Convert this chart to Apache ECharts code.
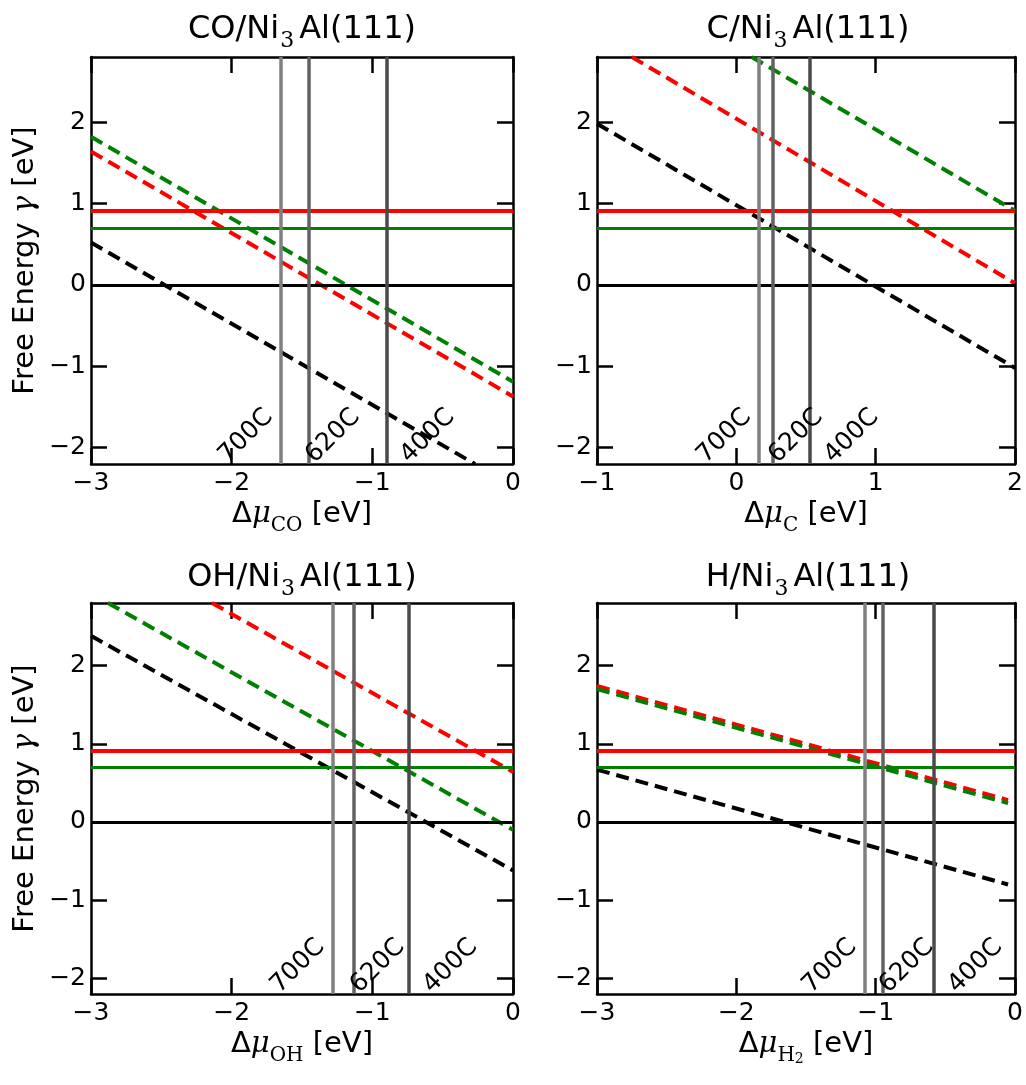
<!DOCTYPE html>
<html><head><meta charset="utf-8">
<script src="https://cdn.jsdelivr.net/npm/echarts@6/dist/echarts.min.js"></script>
<style>html,body{margin:0;padding:0;background:#fff}#c{width:1026px;height:1085px}</style>
</head><body><div id="c"></div>
<script>
// ---------- data ----------
const yRange = [-2.2, 2.8];
const yTicks = [-2, -1, 0, 1, 2];
const tempNames = ['700C', '620C', '400C'];
const tempColors = ['#808080', '#626262', '#4a4a4a'];
const labelShift = [-0.37, 0.045, 0.17];   // label start relative to its line (data units)
const labelY = -2.15;
const hLineY = [0, 0.70, 0.91];
const hLineColors = ['#000000', '#008000', '#ff0000'];
const hLineWidths = [3, 3, 4];

const CO_xRange = [-3, 0];
const CO_black = [[-3, 0.52], [-0.27, -2.2]];
const CO_red = [[-3, 1.64], [0, -1.37]];
const CO_green = [[-3, 1.82], [0, -1.19]];
const CO_tempX = [-1.65, -1.448, -0.898];

const C_xRange = [-1, 2];
const C_black = [[-1, 1.98], [2, -1.02]];
const C_red = [[-0.75, 2.8], [2, 0.02]];
const C_green = [[0.11, 2.8], [2, 0.91]];
const C_tempX = [0.16, 0.259, 0.534];

const OH_xRange = [-3, 0];
const OH_black = [[-3, 2.38], [0, -0.62]];
const OH_red = [[-2.14, 2.8], [0, 0.64]];
const OH_green = [[-2.88, 2.8], [0, -0.10]];
const OH_tempX = [-1.282, -1.13, -0.737];

const H_xRange = [-3, 0];
const H_black = [[-3, 0.67], [-0.05, -0.80]];
const H_red = [[-3, 1.74], [-0.05, 0.28]];
const H_green = [[-3, 1.70], [-0.05, 0.24]];
const H_tempX = [-1.084, -0.946, -0.577];

const titleMain = ['CO', 'C', 'OH', 'H'];
const xNameSub = ['{s|CO}', '{s|C}', '{s|OH}', '{s|H}{ss|2}'];

// ---------- layout ----------
const gridRects = [
  {left: 91, top: 57, width: 422, height: 407},
  {left: 597, top: 57, width: 422, height: 407},
  {left: 91, top: 603, width: 422, height: 391},
  {left: 597, top: 603, width: 422, height: 391}
];
const titleY = [30, 30, 578, 578];

const panels = [
  {xr: CO_xRange, black: CO_black, red: CO_red, green: CO_green, tx: CO_tempX},
  {xr: C_xRange, black: C_black, red: C_red, green: C_green, tx: C_tempX},
  {xr: OH_xRange, black: OH_black, red: OH_red, green: OH_green, tx: OH_tempX},
  {xr: H_xRange, black: H_black, red: H_red, green: H_green, tx: H_tempX}
];

const FONT = 'DejaVu Sans';
const SERIF = 'DejaVu Serif';
const fmt = v => (v < 0 ? '\u2212' + Math.abs(v) : String(v));

const tickStyle = {show: true, inside: true, length: 16, lineStyle: {color: '#000', width: 2.5}};
const lineAx = {show: true, onZero: false, lineStyle: {color: '#000', width: 2.5}};

const grid = [], xAxis = [], yAxis = [], series = [], graphic = [];

const nameRich = {
  d: {fontFamily: FONT, fontSize: 29, lineHeight: 43, color: '#000'},
  m: {fontFamily: SERIF, fontStyle: 'italic', fontSize: 29, lineHeight: 43, color: '#000'},
  s: {fontFamily: SERIF, fontSize: 20, lineHeight: 20, verticalAlign: 'bottom', color: '#000'},
  ss: {fontFamily: SERIF, fontSize: 14, lineHeight: 6, verticalAlign: 'bottom', color: '#000'}
};

panels.forEach((p, i) => {
  grid.push(Object.assign({show: false, containLabel: false}, gridRects[i]));
  xAxis.push({
    type: 'value', gridIndex: i, position: 'bottom', min: p.xr[0], max: p.xr[1], interval: 1,
    axisLine: lineAx, axisTick: tickStyle, splitLine: {show: false},
    axisLabel: {formatter: fmt, fontFamily: FONT, fontSize: 25, color: '#000', margin: 7},
    name: '{d|\u0394}{m|\u03bc}' + xNameSub[i] + '{d| [eV]}',
    nameLocation: 'middle', nameGap: 29,
    nameTextStyle: {rich: nameRich}
  });
  xAxis.push({
    type: 'value', gridIndex: i, position: 'top', min: p.xr[0], max: p.xr[1], interval: 1,
    axisLine: lineAx, axisTick: tickStyle, splitLine: {show: false}, axisLabel: {show: false}
  });
  const yl = {
    type: 'value', gridIndex: i, position: 'left', min: yRange[0], max: yRange[1],
    axisLine: lineAx, axisTick: Object.assign({customValues: yTicks}, tickStyle), splitLine: {show: false},
    axisLabel: {customValues: yTicks, formatter: fmt, fontFamily: FONT, fontSize: 25, color: '#000', margin: 5}
  };
  if (i % 2 === 0) {
    yl.name = '{d|Free Energy }{m|\u03b3}{d| [eV]}';
    yl.nameLocation = 'middle';
    yl.nameGap = 44;
    yl.nameTextStyle = {rich: nameRich};
  }
  yAxis.push(yl);
  yAxis.push({
    type: 'value', gridIndex: i, position: 'right', min: yRange[0], max: yRange[1],
    axisLine: lineAx, axisTick: Object.assign({customValues: yTicks}, tickStyle), splitLine: {show: false},
    axisLabel: {show: false}
  });
  const xi = 2 * i, yi = 2 * i;
  [['#000000', p.black], ['#ff0000', p.red], ['#008000', p.green]].forEach(([c, d]) => {
    series.push({
      type: 'line', xAxisIndex: xi, yAxisIndex: yi, data: d, symbol: 'none', clip: true, z: 2,
      lineStyle: {color: c, width: 4, type: [13, 7], cap: 'butt'}, silent: true
    });
  });
  series.push({
    type: 'line', xAxisIndex: xi, yAxisIndex: yi, data: [], z: 3, silent: true,
    markLine: {
      symbol: ['none', 'none'], silent: true, label: {show: false}, animation: false,
      data: hLineY.map((v, k) => ({yAxis: v, lineStyle: {type: 'solid', color: hLineColors[k], width: hLineWidths[k]}}))
    }
  });
  series.push({
    type: 'line', xAxisIndex: xi, yAxisIndex: yi, data: [], z: 4, silent: true,
    markLine: {
      symbol: ['none', 'none'], silent: true, label: {show: false}, animation: false,
      data: p.tx.map((v, k) => ({xAxis: v, lineStyle: {type: 'solid', color: tempColors[k], width: 3.5}}))
    }
  });
  series.push({
    type: 'custom', xAxisIndex: xi, yAxisIndex: yi, z: 5, silent: true,
    data: p.tx.map((v, k) => [v + labelShift[k], labelY]),
    renderItem: (params, api) => {
      const pt = api.coord([api.value(0), api.value(1)]);
      return {
        type: 'text', x: pt[0] + 3, y: pt[1] + 8, rotation: Math.PI / 4,
        style: {text: tempNames[params.dataIndex], fontFamily: FONT, fontSize: 25, fill: '#000',
                align: 'left', verticalAlign: 'bottom'}
      };
    }
  });
  const g = gridRects[i];
  graphic.push({
    type: 'text', x: g.left + g.width / 2, y: titleY[i], z: 10,
    style: {
      text: '{a|' + titleMain[i] + '/Ni}{s|3}{a|Al(111)}',
      align: 'center', verticalAlign: 'middle',
      rich: {
        a: {fontFamily: FONT, fontSize: 32, lineHeight: 44, fill: '#000'},
        s: {fontFamily: SERIF, fontSize: 22, lineHeight: 22, verticalAlign: 'bottom', fill: '#000', padding: [0, 5, 0, 1]}
      }
    }
  });
});

const chart = echarts.init(document.getElementById('c'), null, {renderer: 'canvas'});
chart.setOption({
  animation: false, backgroundColor: '#fff',
  grid, xAxis, yAxis, series, graphic
});
</script></body></html>
